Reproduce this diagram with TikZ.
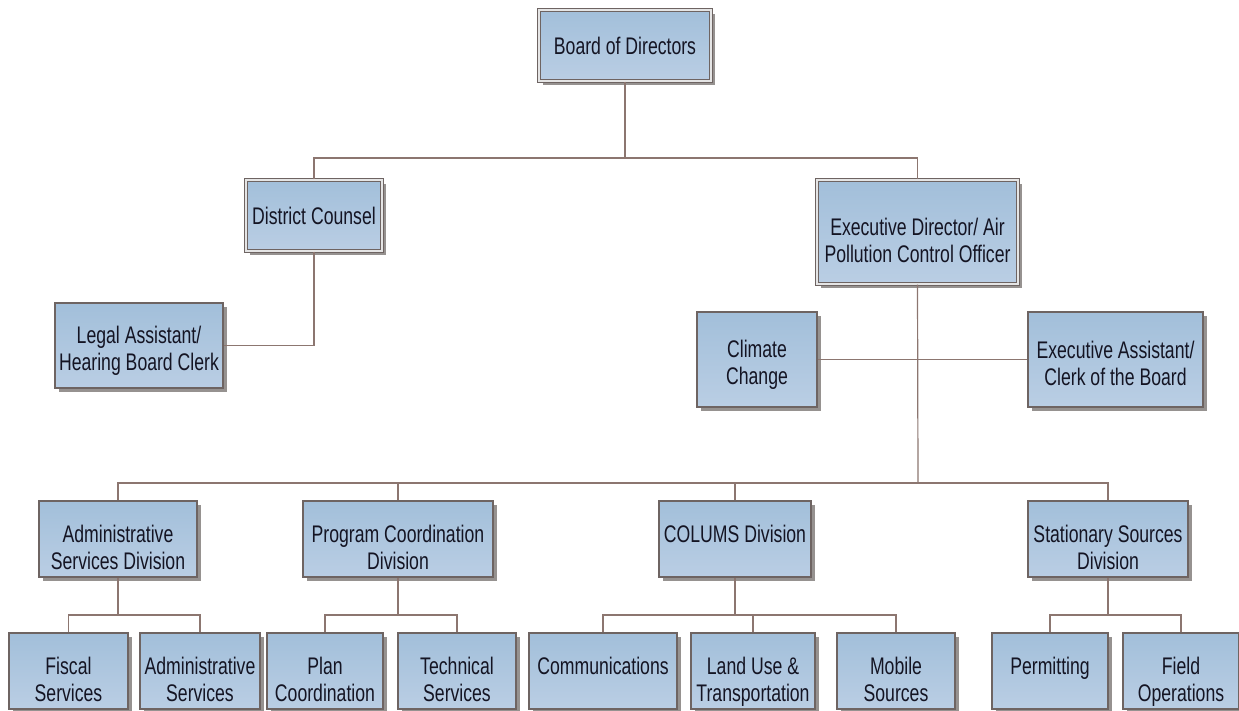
\documentclass[tikz,border=0pt]{standalone}
\usepackage{fontspec}
\setmainfont[FakeStretch=0.735]{Liberation Sans}
\usetikzlibrary{shadows}
\definecolor{boxtop}{RGB}{162,191,218}
\definecolor{boxbot}{RGB}{186,206,228}
\definecolor{boxline}{RGB}{110,100,98}
\definecolor{conn}{RGB}{140,118,112}
\definecolor{shad}{RGB}{150,146,144}
\definecolor{ink}{RGB}{20,20,35}
\newcommand\orgbox[7]{%
  \node[#1,minimum width=#4pt,minimum height=#5pt] (#2) at (#3) {};
  \node[txt] (#2-t) at ([yshift=#6pt]#2.center) {#7};}
\begin{document}
\begin{tikzpicture}[x=1pt,y=-1pt,
  box/.style={draw=boxline,line width=1.3pt,top color=boxtop,bottom color=boxbot,
    inner sep=0pt,
    drop shadow={shadow xshift=4pt,shadow yshift=-4pt,fill=shad,opacity=1}},
  dbox/.style={box,double=white!80!gray,double distance=2pt,line width=1.1pt},
  txt/.style={inner sep=0pt,align=center,font=\fontsize{24}{27}\selectfont,text=ink},
  link/.style={draw=conn,line width=1.2pt}]
\useasboundingbox (0,0) rectangle (1239,711);
% top levels
\orgbox{dbox}{board}{625,45.5}{172}{71}{0}{Board of Directors}
\orgbox{dbox}{dc}{314,215.5}{136}{71}{0}{District Counsel}
\orgbox{dbox}{ed}{917.5,232}{201}{104}{-8}{Executive Director/ Air\\Pollution Control Officer}
\orgbox{box}{legal}{139,345.5}{168}{85}{-5}{Legal Assistant/\\Hearing Board Clerk}
\orgbox{box}{climate}{757,359.5}{120}{95}{-5}{Climate\\Change}
\orgbox{box}{exasst}{1115.5,359.5}{175}{95}{-4}{Executive Assistant/\\Clerk of the Board}
% divisions
\orgbox{box}{adiv}{118,539}{158}{76}{-8}{Administrative\\Services Division}
\orgbox{box}{pdiv}{398,539}{190}{76}{-8}{Program Coordination\\Division}
\orgbox{box}{cdiv}{735,539}{152}{76}{5.5}{COLUMS Division}
\orgbox{box}{sdiv}{1108,539}{160}{76}{-8}{Stationary Sources\\Division}
% bottom row
\orgbox{box}{fiscal}{68.5,671}{119}{76}{-8}{Fiscal\\Services}
\orgbox{box}{adsvc}{200,671}{120}{76}{-8}{Administrative\\Services}
\orgbox{box}{plan}{325,671}{116}{76}{-8}{Plan\\Coordination}
\orgbox{box}{tech}{457,671}{118}{76}{-8}{Technical\\Services}
\orgbox{box}{comm}{603,671}{148}{76}{5.5}{Communications}
\orgbox{box}{land}{753,671}{124}{76}{-11}{Land Use \&\\Transportation}
\orgbox{box}{mobile}{896,671}{118}{76}{-8}{Mobile\\Sources}
\orgbox{box}{permit}{1050,671}{116}{76}{2.5}{Permitting}
\orgbox{box}{field}{1181,671}{116}{76}{-11}{Field\\Operations}
% junctions
\coordinate (j1) at (625,158);
\coordinate (j3) at (918,483);
\coordinate (ja) at (118,615);
\coordinate (jp) at (398,615);
\coordinate (jc) at (735,615);
\coordinate (js) at (1108,615);
% connectors
\path[link] (board.south) -- (j1);
\path[link] (dc.north) |- (j1) -| (ed.north);
\path[link] (dc.south) |- (legal.east);
\path[link] (ed.south) -- (j3);
\path[link] (climate.east) -- (exasst.west);
\path[link] (adiv.north) |- (j3) -| (sdiv.north);
\path[link] (pdiv.north) -- (pdiv.north |- j3);
\path[link] (cdiv.north) -- (cdiv.north |- j3);
\path[link] (adiv.south) -- (ja);
\path[link] (fiscal.north) |- (ja) -| (adsvc.north);
\path[link] (pdiv.south) -- (jp);
\path[link] (plan.north) |- (jp) -| (tech.north);
\path[link] (cdiv.south) -- (jc);
\path[link] (comm.north) |- (jc) -| (mobile.north);
\path[link] (land.north) -- (land.north |- jc);
\path[link] (sdiv.south) -- (js);
\path[link] (permit.north) |- (js) -| (field.north);
\end{tikzpicture}
\end{document}
